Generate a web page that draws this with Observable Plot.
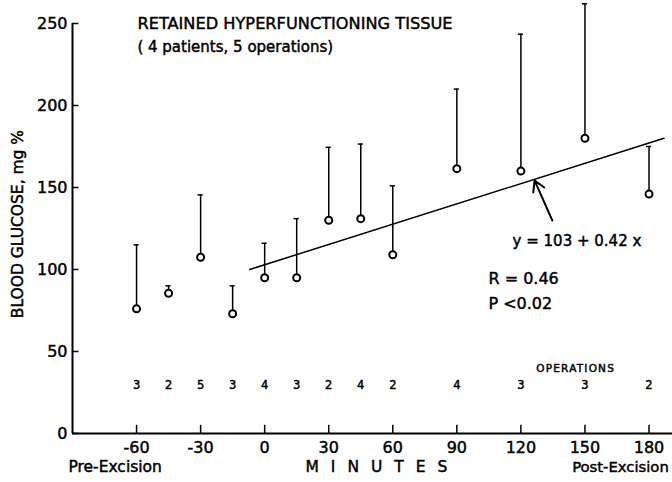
<!DOCTYPE html>
<html>
<head>
<meta charset="utf-8">
<script src="https://cdn.jsdelivr.net/npm/d3@7"></script>
<script src="https://cdn.jsdelivr.net/npm/@observablehq/plot@0.6"></script>
<style>
  html, body { margin: 0; padding: 0; background: white; }
  svg { display: block; }
  svg text { stroke: black; stroke-width: 0.45px; }
</style>
</head>
<body>
<div id="chart"></div>
<script>
// ---- data ----
const minutes      = [-60, -45, -30, -15, 0, 15, 30, 45, 60, 90, 120, 150, 180];
const glucoseMean  = [76, 85.5, 107.5, 73, 95, 95, 130, 131, 109, 161.5, 160, 180, 146];
const glucoseUpper = [115, 90, 145.5, 90, 116, 131, 174.5, 176.5, 151, 210, 243.5, 262, 175];
const operations   = [3, 2, 5, 3, 4, 3, 2, 4, 2, 4, 3, 3, 2];
const xTicks = [-60, -30, 0, 30, 60, 90, 120, 150, 180];
const yTicks = [0, 50, 100, 150, 200, 250];
const regressionMinutes = [-7, 187];
const regressionGlucose = [100, 180];

const rows = minutes.map((m, i) => ({m, mean: glucoseMean[i], upper: glucoseUpper[i], ops: operations[i]}));
const regression = regressionMinutes.map((m, i) => ({m, g: regressionGlucose[i]}));

const FONT = "DejaVu Sans";

const chart = Plot.plot({
  width: 672,
  height: 482,
  marginLeft: 72,
  marginRight: 0,
  marginTop: 23,
  marginBottom: 49,
  x: {domain: [-90, 191]},
  y: {domain: [0, 250]},
  style: {fontFamily: FONT, fontSize: 16, background: "white", color: "black", overflow: "visible"},
  marks: [
    // axes lines
    Plot.ruleY([0], {x1: -90, x2: 191, stroke: "black", strokeWidth: 2}),
    Plot.ruleX([-90], {y1: 0, y2: 250, stroke: "black", strokeWidth: 2}),
    // inward ticks
    Plot.ruleX(xTicks, {x: d => d, y1: 0, y2: 5, stroke: "black", strokeWidth: 1.5}),
    Plot.ruleY(yTicks, {y: d => d, x1: -90, x2: -87, stroke: "black", strokeWidth: 1.5}),
    // tick labels
    Plot.axisX(xTicks, {tickSize: 0, tickPadding: 8, tickFormat: d => String(d), fontSize: 16, label: null}),
    Plot.axisY(yTicks, {tickSize: 0, tickPadding: 5, fontSize: 16, label: null}),
    // regression line
    Plot.line(regression, {x: "m", y: "g", stroke: "black", strokeWidth: 1.5}),
    // error bars (upper only)
    Plot.ruleX(rows, {x: "m", y1: "mean", y2: "upper", stroke: "black", strokeWidth: 1.5}),
    Plot.ruleY(rows, {y: "upper", x1: d => d.m - 1.2, x2: d => d.m + 1.2, stroke: "black", strokeWidth: 1.5}),
    // means
    Plot.dot(rows, {x: "m", y: "mean", r: 3.5, fill: "white", stroke: "black", strokeWidth: 2}),
    // operation counts
    Plot.text(rows, {x: "m", y: 29.3, text: d => String(d.ops), fontSize: 11.5}),
    Plot.text(["OPERATIONS"], {x: 127.2, y: 39.8, text: d => d, textAnchor: "start", fontSize: 10.5}),
    // title
    Plot.text(["RETAINED HYPERFUNCTIONING TISSUE"], {x: -59.6, y: 250, text: d => d, textAnchor: "start", fontSize: 16.2}),
    Plot.text(["( 4 patients, 5 operations)"], {x: -59.6, y: 235.5, text: d => d, textAnchor: "start", fontSize: 15}),
    // annotations
    Plot.arrow([{x1: 134.7, y1: 129.9, x2: 126.4, y2: 154.3}], {x1: "x1", y1: "y1", x2: "x2", y2: "y2", stroke: "black", strokeWidth: 2, headLength: 9}),
    Plot.text(["y = 103 + 0.42 x"], {x: 116.1, y: 117.1, text: d => d, textAnchor: "start", fontSize: 15}),
    Plot.text(["R = 0.46"], {x: 104.8, y: 94.5, text: d => d, textAnchor: "start", fontSize: 16}),
    Plot.text(["P <0.02"], {x: 104.8, y: 79.3, text: d => d, textAnchor: "start", fontSize: 16}),
    // axis titles
    Plot.text(["BLOOD GLUCOSE, mg %"], {x: -115.3, y: 127.7, text: d => d, rotate: -90, fontSize: 15.5}),
    Plot.text(["Pre-Excision"], {x: -91.9, y: -20.5, text: d => d, textAnchor: "start", fontSize: 15.5}),
    Plot.text(["MINUTES"], {x: 19.1, y: -20.5, text: d => d, textAnchor: "start", fontSize: 15.5}),
    Plot.text(["Post-Excision"], {x: 144, y: -20.5, text: d => d, textAnchor: "start", fontSize: 14.8})
  ]
});

d3.select(chart).selectAll("text")
  .filter(function() { return this.textContent === "MINUTES"; })
  .attr("letter-spacing", 12);
d3.select(chart).selectAll("text")
  .filter(function() { return this.textContent === "OPERATIONS"; })
  .attr("letter-spacing", 1.2);

document.getElementById("chart").appendChild(chart);
</script>
</body>
</html>
